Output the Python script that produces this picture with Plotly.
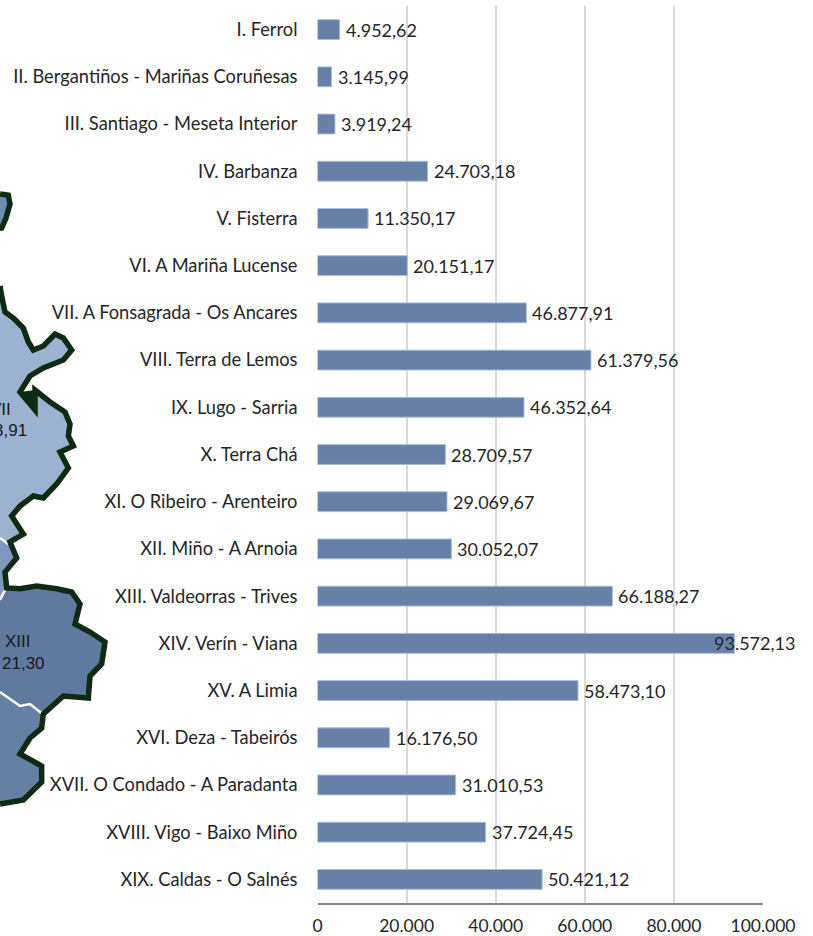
import plotly.graph_objects as go

categories = ["I. Ferrol", "II. Bergantiños - Mariñas Coruñesas", "III. Santiago - Meseta Interior",
              "IV. Barbanza", "V. Fisterra", "VI. A Mariña Lucense", "VII. A Fonsagrada - Os Ancares",
              "VIII. Terra de Lemos", "IX. Lugo - Sarria", "X. Terra Chá", "XI. O Ribeiro - Arenteiro",
              "XII. Miño - A Arnoia", "XIII. Valdeorras - Trives", "XIV. Verín - Viana", "XV. A Limia",
              "XVI. Deza - Tabeirós", "XVII. O Condado - A Paradanta", "XVIII. Vigo - Baixo Miño",
              "XIX. Caldas - O Salnés"]
values = [4952.62, 3145.99, 3919.24, 24703.18, 11350.17, 20151.17, 46877.91, 61379.56, 46352.64,
          28709.57, 29069.67, 30052.07, 66188.27, 93572.13, 58473.10, 16176.50, 31010.53, 37724.45,
          50421.12]
value_labels = ["4.952,62", "3.145,99", "3.919,24", "24.703,18", "11.350,17", "20.151,17", "46.877,91",
                "61.379,56", "46.352,64", "28.709,57", "29.069,67", "30.052,07", "66.188,27", "93.572,13",
                "58.473,10", "16.176,50", "31.010,53", "37.724,45", "50.421,12"]
tick_values = [0, 20000, 40000, 60000, 80000, 100000]
tick_labels = ["0", "20.000", "40.000", "60.000", "80.000", "100.000"]

W, H = 813, 936
FONT = "Lato"

map_top = [(0, 35), (25, 38), (30, 60), (18, 95), (5, 120), (0, 120)]
map_outline = [(0, 265), (5, 290), (15, 330), (40, 345), (70, 370), (85, 405), (100, 425), (130, 415),
               (165, 385), (190, 395), (215, 425), (190, 450), (130, 470), (90, 490), (60, 530), (105, 575),
               (105, 525), (150, 555), (195, 580), (210, 610), (205, 640), (220, 665), (180, 680), (205, 720),
               (170, 760), (130, 795), (100, 790), (60, 815), (35, 840), (70, 885), (30, 905), (50, 945),
               (15, 980), (20, 1020), (60, 1022), (110, 1015), (170, 1022), (215, 1030), (240, 1060),
               (225, 1110), (270, 1130), (315, 1155), (305, 1210), (270, 1240), (265, 1295), (190, 1290),
               (130, 1335), (125, 1370), (90, 1395), (60, 1435), (125, 1465), (125, 1505), (70, 1550), (0, 1560)]
map_notch = [(60, 530), (105, 575), (105, 525)]
map_mid = [(0, 895), (30, 905), (50, 945), (15, 980), (18, 1020), (0, 1050)]
map_dark = [(0, 1050), (18, 1020), (60, 1022), (110, 1015), (170, 1022), (215, 1030), (240, 1060),
            (225, 1110), (270, 1130), (315, 1155), (305, 1210), (270, 1240), (265, 1295), (190, 1290),
            (130, 1335), (60, 1315), (0, 1280)]
map_low = [(0, 1280), (60, 1315), (90, 1310), (130, 1335), (125, 1370), (90, 1395), (60, 1435), (125, 1465),
           (125, 1505), (70, 1550), (0, 1560)]
div_a = [(0, 895), (25, 910)]
div_b = [(0, 1050), (18, 1020)]
div_c = [(0, 1280), (60, 1315), (90, 1310), (128, 1335)]


def path(points, close=False):
    p = [(x / 3 / W, 1 - (180 + y / 2.5) / H) for x, y in points]
    return "M " + " L ".join(f"{a:.5f} {b:.5f}" for a, b in p) + (" Z" if close else "")


def region(points, fill):
    return dict(type="path", xref="paper", yref="paper", path=path(points, True),
                fillcolor=fill, line=dict(width=0), layer="below")


def stroke(points, color, width):
    return dict(type="path", xref="paper", yref="paper", path=path(points),
                line=dict(color=color, width=width), layer="below")


light_pts = map_outline[:31] + [(0, 895)]
shapes = [
    region(map_top, "#6F8CB5"),
    region(light_pts, "#9DB1D1"),
    region(map_mid, "#7F97BE"),
    region(map_dark, "#5F799F"),
    region(map_low, "#6580A5"),
    stroke(div_a, "white", 2.5), stroke(div_b, "white", 2.5), stroke(div_c, "white", 2.5),
    stroke(map_top, "#0F2A12", 5.5),
    stroke(map_outline, "#0F2A12", 5.5),
    region(map_notch, "#0F2A12"),
]

annotations = []
for c, v, t in zip(categories, values, value_labels):
    annotations.append(dict(x=v, y=c, xref="x", yref="y", text=t, showarrow=False, xanchor="left",
                            xshift=-22 if v > 90000 else 4, yshift=0,
                            font=dict(family=FONT, size=18, color="#262626")))

for txt, px, py in [("VII", 13, 409), ("3,91", 29, 431), ("XIII", 33, 641), ("21,30", 47, 663)]:
    annotations.append(dict(x=px / W, y=1 - py / H, xref="paper", yref="paper", text=txt, showarrow=False,
                            xanchor="right", yanchor="middle",
                            font=dict(family="Liberation Sans", size=17, color="#1a1a1a")))

fig = go.Figure(go.Bar(y=categories, x=values, orientation="h", width=0.42,
                       marker=dict(color="#6780A8", line=dict(color="#A9BCD8", width=1))))

fig.update_layout(
    width=W, height=H, margin=dict(l=0, r=0, t=0, b=0, autoexpand=False), paper_bgcolor="white",
    plot_bgcolor="white", showlegend=False, shapes=shapes, annotations=annotations,
    xaxis=dict(domain=[317.5 / W, 763 / W], range=[0, 100000], tickvals=tick_values, ticktext=tick_labels,
               showgrid=True, gridcolor="#D9D9D9", gridwidth=2, zeroline=False, showline=True,
               linecolor="#868686", linewidth=2, ticks="", ticklabelstandoff=6,
               tickfont=dict(family=FONT, size=17.5, color="#262626")),
    yaxis=dict(domain=[1 - 903 / H, 1 - 6 / H], autorange="reversed", categoryorder="array",
               categoryarray=categories, showgrid=False, zeroline=False, showline=False, ticks="",
               ticklabelstandoff=19, automargin=False,
               tickfont=dict(family=FONT, size=18.3, color="#262626")),
)
fig.write_html("out.html", config={"displayModeBar": False},
               post_script="document.body.style.margin='0';document.body.style.overflow='hidden';")
